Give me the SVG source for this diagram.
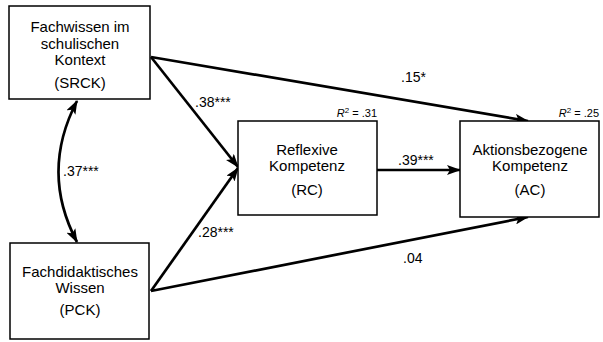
<svg xmlns="http://www.w3.org/2000/svg" width="603" height="342" viewBox="0 0 603 342">
<defs>
<marker id="ah" markerUnits="userSpaceOnUse" markerWidth="14" markerHeight="10" refX="13" refY="5" orient="auto-start-reverse" viewBox="0 0 14 10">
<path d="M0,0 L14,5 L0,10 L3,5 Z" fill="#000"/>
</marker>
<style>
.box{fill:#fff;stroke:#000;stroke-width:1.5}
.t{font-family:"Liberation Sans",Arial,sans-serif;font-size:15px;fill:#000;text-anchor:middle}
.l{font-family:"Liberation Sans",Arial,sans-serif;font-size:14px;fill:#000}
.r{font-family:"Liberation Sans",Arial,sans-serif;font-size:11px;fill:#000;text-anchor:end}
.e{fill:none;stroke:#000;stroke-width:2.7;marker-end:url(#ah)}
</style>
</defs>
<rect width="603" height="342" fill="#fff"/>
<g id="connectors">
<path class="e" d="M151,57 L528,121"/>
<path class="e" d="M151,57 L238,167"/>
<path class="e" d="M151,291 L238,168"/>
<path class="e" d="M151,291 L528,217"/>
<path class="e" d="M377,170 L460,170"/>
<path class="e" style="marker-start:url(#ah)" d="M77,101 Q40,172 77,242"/>
<text class="l" x="401" y="82">.15*</text>
<text class="l" x="195" y="107">.38***</text>
<text class="l" x="63" y="176">.37***</text>
<text class="l" x="198" y="237">.28***</text>
<text class="l" x="398" y="165">.39***</text>
<text class="l" x="403" y="263">.04</text>
</g>
<g id="SRCK">
<rect class="box" x="9" y="6" width="141" height="93"/>
<text class="t" x="80" y="32">Fachwissen im</text>
<text class="t" x="80" y="49">schulischen</text>
<text class="t" x="80" y="65">Kontext</text>
<text class="t" x="80" y="88">(SRCK)</text>
</g>
<g id="PCK">
<rect class="box" x="10" y="243" width="139" height="96"/>
<text class="t" x="80" y="277">Fachdidaktisches</text>
<text class="t" x="80" y="293">Wissen</text>
<text class="t" x="80" y="315">(PCK)</text>
</g>
<g id="RC">
<rect class="box" x="238" y="121" width="139" height="94"/>
<text class="t" x="307" y="155">Reflexive</text>
<text class="t" x="307" y="171">Kompetenz</text>
<text class="t" x="307" y="195">(RC)</text>
<text class="r" x="377" y="117"><tspan font-style="italic">R</tspan><tspan font-size="8" dy="-4">2</tspan><tspan dy="4"> = .31</tspan></text>
</g>
<g id="AC">
<rect class="box" x="460" y="121" width="139" height="96"/>
<text class="t" x="530" y="155">Aktionsbezogene</text>
<text class="t" x="530" y="171">Kompetenz</text>
<text class="t" x="530" y="195">(AC)</text>
<text class="r" x="599" y="117"><tspan font-style="italic">R</tspan><tspan font-size="8" dy="-4">2</tspan><tspan dy="4"> = .25</tspan></text>
</g>
</svg>
